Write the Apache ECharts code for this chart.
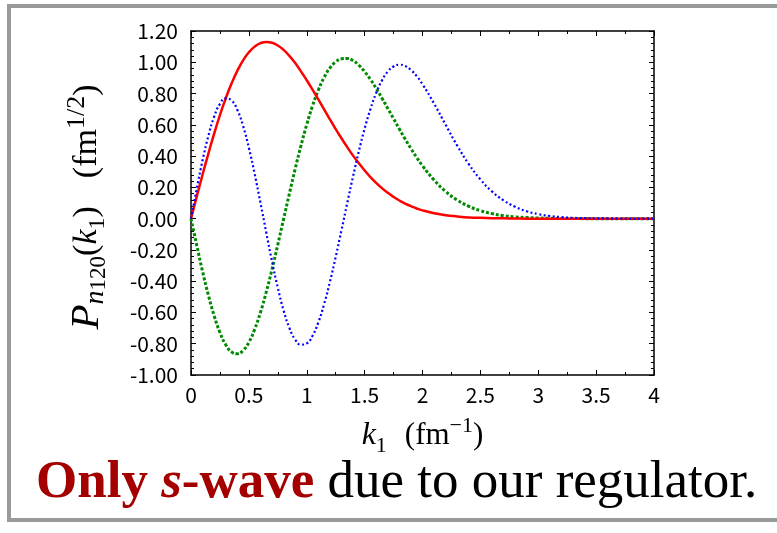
<!DOCTYPE html>
<html><head><meta charset="utf-8">
<script src="https://cdn.jsdelivr.net/npm/echarts@6/dist/echarts.min.js"></script>
<style>html,body{margin:0;padding:0;background:#fff}#c{width:777px;height:533px}</style>
</head><body><div id="c"></div>
<script>
// k1 (fm^-1) sample points
const kValues = [0,0.05,0.1,0.15,0.2,0.25,0.3,0.35,0.4,0.45,0.5,0.55,0.6,0.65,0.7,0.75,0.8,0.85,0.9,0.95,
  1.0,1.05,1.1,1.15,1.2,1.25,1.3,1.35,1.4,1.45,1.5,1.55,1.6,1.65,1.7,1.75,1.8,1.85,1.9,1.95,2.0,
  2.1,2.2,2.3,2.4,2.5,2.6,2.7,2.8,2.9,3.0,3.1,3.2,3.3,3.4,3.5,3.6,3.7,3.8,3.9,4.0];
// red solid curve
const redCurve = [0,0.142,0.282,0.416,0.544,0.662,0.769,0.864,0.945,1.012,1.064,1.100,1.122,1.130,1.125,1.107,1.079,1.041,0.995,0.942,
  0.885,0.825,0.762,0.698,0.635,0.573,0.514,0.457,0.403,0.354,0.308,0.266,0.229,0.195,0.165,0.139,0.116,0.096,0.080,0.065,0.053,
  0.035,0.022,0.014,0.008,0.005,0.003,0.002,0.001,0,0,0,0,0,0,0,0,0,0,0,0];
// green dotted curve
const greenCurve = [0,-0.172,-0.338,-0.489,-0.621,-0.728,-0.806,-0.852,-0.864,-0.843,-0.791,-0.708,-0.600,-0.470,-0.324,-0.166,-0.003,0.160,0.318,0.467,
  0.602,0.722,0.822,0.903,0.963,1.002,1.022,1.024,1.010,0.981,0.940,0.890,0.833,0.770,0.705,0.639,0.573,0.509,0.448,0.391,0.338,
  0.247,0.174,0.119,0.079,0.051,0.032,0.019,0.011,0.007,0.004,0.002,0.001,0.001,0,0,0,0,0,0,0];
// blue dotted curve
const blueCurve = [0,0.193,0.373,0.529,0.652,0.734,0.769,0.756,0.696,0.593,0.453,0.286,0.102,-0.088,-0.273,-0.442,-0.587,-0.699,-0.773,-0.806,
  -0.798,-0.749,-0.664,-0.547,-0.405,-0.245,-0.074,0.100,0.270,0.430,0.575,0.700,0.804,0.884,0.940,0.973,0.984,0.976,0.951,0.911,0.860,
  0.736,0.600,0.467,0.349,0.251,0.174,0.117,0.076,0.047,0.029,0.017,0.010,0.005,0.003,0.002,0.001,0,0,0,0];
// axis ticks
const xTicks = [0,0.5,1,1.5,2,2.5,3,3.5,4];
const yTicks = [-1.00,-0.80,-0.60,-0.40,-0.20,0.00,0.20,0.40,0.60,0.80,1.00,1.20];

const pairs = arr => kValues.map((k, i) => [k, arr[i]]);
const serif = 'Liberation Serif';
const xNameRich = {
  it: {fontFamily: serif, fontStyle: 'italic', fontSize: 32, lineHeight: 42, color: '#000'},
  rm: {fontFamily: serif, fontSize: 31, lineHeight: 42, color: '#000'},
  sp: {fontFamily: serif, fontSize: 31, lineHeight: 42, color: '#000', width: 18},
  sub: {fontFamily: serif, fontSize: 22, verticalAlign: 'bottom', color: '#000'},
  sup: {fontFamily: serif, fontSize: 22, verticalAlign: 'top', color: '#000'}
};
const yNameRich = {
  P: {fontFamily: serif, fontStyle: 'italic', fontSize: 41, lineHeight: 46, fill: '#000'},
  it: {fontFamily: serif, fontStyle: 'italic', fontSize: 34, lineHeight: 46, fill: '#000'},
  rm: {fontFamily: serif, fontSize: 34, lineHeight: 46, fill: '#000'},
  sp: {fontFamily: serif, fontSize: 34, lineHeight: 46, fill: '#000', width: 28},
  sub: {fontFamily: serif, fontSize: 24, verticalAlign: 'bottom', fill: '#000'},
  subi: {fontFamily: serif, fontStyle: 'italic', fontSize: 28, verticalAlign: 'bottom', fill: '#000'},
  subsub: {fontFamily: serif, fontSize: 23, verticalAlign: 'bottom', fill: '#000'},
  sup: {fontFamily: serif, fontSize: 26, verticalAlign: 'top', fill: '#000'}
};
const labelFont = {fontFamily: 'Noto Sans CJK JP', fontSize: 21, color: '#000'};
const axisLine = {show: true, onZero: false, lineStyle: {color: '#000', width: 1.5}};
const tick = {show: true, inside: true, length: 5, lineStyle: {color: '#000', width: 1}};

const chart = echarts.init(document.getElementById('c'), null, {renderer: 'canvas'});
chart.setOption({
  animation: false,
  backgroundColor: '#fff',
  grid: {left: 191, right: 123, top: 31, bottom: 158, containLabel: false},
  xAxis: [{
    type: 'value', min: xTicks[0], max: xTicks[xTicks.length - 1], interval: xTicks[1] - xTicks[0],
    position: 'bottom',
    axisLine: axisLine, axisTick: tick,
    minorTick: {show: true, splitNumber: 2, length: 3, lineStyle: {color: '#000', width: 1}},
    splitLine: {show: false},
    axisLabel: Object.assign({margin: 10}, labelFont),
    name: '{it|k}{sub|1}{sp| }{rm|(fm}{sup|−1}{rm|)}',
    nameLocation: 'middle', nameGap: 40,
    nameTextStyle: {rich: xNameRich}
  }, {
    type: 'value', min: xTicks[0], max: xTicks[xTicks.length - 1], interval: xTicks[1] - xTicks[0],
    position: 'top',
    axisLine: axisLine, axisTick: tick,
    minorTick: {show: true, splitNumber: 2, length: 3, lineStyle: {color: '#000', width: 1}},
    splitLine: {show: false},
    axisLabel: {show: false}
  }],
  yAxis: [{
    type: 'value', min: yTicks[0], max: yTicks[yTicks.length - 1], interval: 0.2,
    position: 'left',
    axisLine: axisLine, axisTick: tick,
    minorTick: {show: true, splitNumber: 5, length: 3, lineStyle: {color: '#000', width: 1}},
    splitLine: {show: false},
    axisLabel: Object.assign({margin: 13, formatter: v => v.toFixed(2)}, labelFont)
  }, {
    type: 'value', min: yTicks[0], max: yTicks[yTicks.length - 1], interval: 0.2,
    position: 'right',
    axisLine: axisLine, axisTick: tick,
    minorTick: {show: true, splitNumber: 5, length: 3, lineStyle: {color: '#000', width: 1}},
    splitLine: {show: false},
    axisLabel: {show: false}
  }],
  series: [
    {type: 'line', data: pairs(redCurve), smooth: 0.5, showSymbol: false,
     lineStyle: {color: '#ff0000', width: 2.5, type: 'solid'}, z: 3},
    {type: 'line', data: pairs(greenCurve), smooth: 0.5, showSymbol: false,
     lineStyle: {color: '#008a00', width: 3, type: [3, 2]}, z: 2},
    {type: 'line', data: pairs(blueCurve), smooth: 0.5, showSymbol: false,
     lineStyle: {color: '#0000ff', width: 2.2, type: [2, 2.5]}, z: 4}
  ],
  graphic: [
    {type: 'rect', z: -1, shape: {x: 9, y: 6, width: 800, height: 514},
     style: {fill: 'none', stroke: '#9a9a9a', lineWidth: 4}},
    {type: 'text', x: 87, y: 207, rotation: Math.PI / 2,
     style: {
       text: '{P|P}{subi|n}{subsub|120}{rm|(}{it|k}{sub|1}{rm|)}{sp| }{rm|(fm}{sup|1/2}{rm|)}',
       align: 'center', verticalAlign: 'middle', rich: yNameRich
     }},
    {type: 'text', x: 36, y: 483,
     style: {
       text: '{b|Only }{bi|s}{b|-wave}{n| due to our regulator.}',
       verticalAlign: 'middle', align: 'left',
       rich: {
         b: {fontFamily: serif, fontWeight: 'bold', fontSize: 53, fill: '#a50000'},
         bi: {fontFamily: serif, fontWeight: 'bold', fontStyle: 'italic', fontSize: 53, fill: '#a50000'},
         n: {fontFamily: serif, fontSize: 53, fill: '#000'}
       }
     }}
  ]
});
</script>
</body></html>
